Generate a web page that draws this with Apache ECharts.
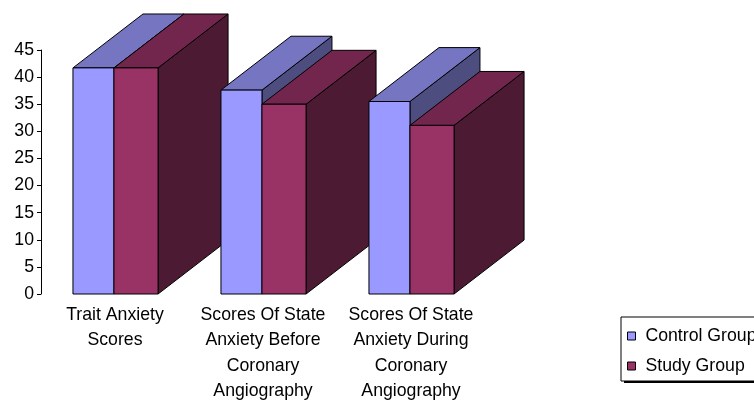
<!DOCTYPE html>
<html>
<head>
<meta charset="utf-8">
<script src="https://cdn.jsdelivr.net/npm/echarts@6/dist/echarts.min.js"></script>
<style>html,body{margin:0;padding:0;background:#fff;}#c{width:754px;height:400px;}</style>
</head>
<body>
<div id="c"></div>
<script>
const categories = [
  "Trait Anxiety\nScores",
  "Scores Of State\nAnxiety Before\nCoronary\nAngiography",
  "Scores Of State\nAnxiety During\nCoronary\nAngiography"
];
const controlGroup = [41.7, 37.6, 35.5];
const studyGroup = [41.7, 35.0, 31.1];
const yTicks = [0, 45, 5];

const palettes = [
  { front: '#9999FF', top: '#7575C2', side: '#4D4D80' },
  { front: '#993366', top: '#73264D', side: '#4D1A33' }
];

function makeRender(barIdx) {
  return function (params, api) {
    const idx = api.value(0), v = api.value(1);
    const top = api.coord([idx, v]);
    const base = api.coord([idx, 0]);
    const bw = api.size([1, 0])[0];
    const c = top[0];
    const x0 = barIdx === 0 ? c - 0.284 * bw : c - 0.007 * bw;
    const x1 = barIdx === 0 ? c - 0.007 * bw : c + 0.291 * bw;
    const dx = 0.473 * bw, dy = -0.77 * dx;
    const yt = top[1], yb = base[1];
    const p = palettes[barIdx];
    const st = { stroke: '#000', lineWidth: 1, lineJoin: 'miter' };
    const zb = idx * 10 + barIdx * 5;
    return {
      type: 'group',
      children: [
        { type: 'polygon', z2: zb + 1, silent: true,
          shape: { points: [[x1, yt], [x1 + dx, yt + dy], [x1 + dx, yb + dy], [x1, yb]] },
          style: Object.assign({ fill: p.side }, st) },
        { type: 'polygon', z2: zb + 2, silent: true,
          shape: { points: [[x0, yt], [x1, yt], [x1 + dx, yt + dy], [x0 + dx, yt + dy]] },
          style: Object.assign({ fill: p.top }, st) },
        { type: 'polygon', z2: zb + 3, silent: true,
          shape: { points: [[x0, yt], [x1, yt], [x1, yb], [x0, yb]] },
          style: Object.assign({ fill: p.front }, st) }
      ]
    };
  };
}

const chart = echarts.init(document.getElementById('c'), null, { renderer: 'canvas' });
chart.setOption({
  animation: false,
  textStyle: { fontFamily: 'Liberation Sans, Arial, sans-serif' },
  grid: { left: 41, top: 50, width: 444, height: 244, containLabel: false, outerBoundsMode: 'none' },
  graphic: [
    { type: 'rect', z: 1, silent: true,
      shape: { x: 624, y: 320, width: 140, height: 63 },
      style: { fill: '#000' } }
  ],
  xAxis: {
    type: 'category',
    data: categories,
    axisLine: { show: false },
    axisTick: { show: false },
    axisLabel: { color: '#000', fontSize: 17.7, lineHeight: 25.5, margin: 8, interval: 0, align: 'center' }
  },
  yAxis: {
    type: 'value',
    min: yTicks[0], max: yTicks[1], interval: yTicks[2],
    axisLine: { show: true, lineStyle: { color: '#000', width: 1 } },
    axisTick: { show: true, length: 4, lineStyle: { color: '#000' } },
    splitLine: { show: false },
    axisLabel: { color: '#000', fontSize: 17.7, margin: 7 }
  },
  legend: {
    orient: 'vertical',
    left: 621, top: 317,
    z: 5,
    padding: [10, 40, 6, 6],
    itemWidth: 8, itemHeight: 8, itemGap: 12,
    icon: 'rect',
    backgroundColor: '#fff',
    borderColor: '#000', borderWidth: 1,
    textStyle: { color: '#000', fontSize: 17.7 },
    itemStyle: { borderColor: '#000', borderWidth: 1 },
    formatter: function (name) { return ' ' + name; },
    selectedMode: false,
    data: ['Control Group', 'Study Group']
  },
  series: [
    { name: 'Control Group', type: 'custom', clip: false,
      itemStyle: { color: palettes[0].front, borderColor: '#000', borderWidth: 1 },
      renderItem: makeRender(0),
      encode: { x: 0, y: 1 },
      data: controlGroup.map((v, i) => [i, v]) },
    { name: 'Study Group', type: 'custom', clip: false,
      itemStyle: { color: palettes[1].front, borderColor: '#000', borderWidth: 1 },
      renderItem: makeRender(1),
      encode: { x: 0, y: 1 },
      data: studyGroup.map((v, i) => [i, v]) }
  ]
});
</script>
</body>
</html>
